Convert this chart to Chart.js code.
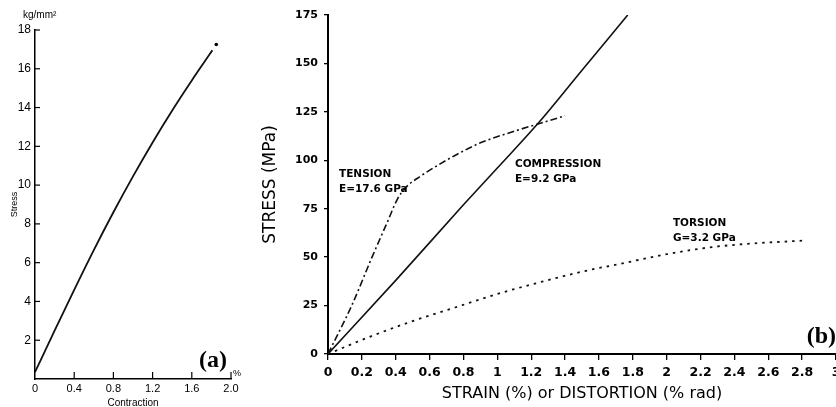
<!DOCTYPE html>
<html>
<head>
<meta charset="utf-8">
<script src="https://cdn.jsdelivr.net/npm/chart.js@4.4.0/dist/chart.umd.min.js"></script>
<style>
html, body { margin: 0; padding: 0; background: #fff; overflow: hidden; width: 836px; height: 407px; }
#wrapA { position: absolute; left: 0; top: 0; width: 245px; height: 407px; }
#wrapB { position: absolute; left: 250px; top: 0; width: 600px; height: 407px; }
</style>
</head>
<body>
<div id="wrapA"><canvas id="chartA" width="245" height="407"></canvas></div>
<div id="wrapB"><canvas id="chartB" width="600" height="407"></canvas></div>
<script>
// (a) stress vs contraction
const contraction = [0, 0.2, 0.4, 0.6, 0.8, 1.0, 1.2, 1.4, 1.6, 1.81];
const stressA = [0.35, 2.5, 4.6, 6.65, 8.6, 10.45, 12.2, 13.85, 15.4, 16.95];
const endX = [1.85];
const endY = [17.25];
const xTicksA = [0, 0.4, 0.8, 1.2, 1.6, 2.0];
const xTickLabelsA = ['0', '0.4', '0.8', '1.2', '1.6', '2.0'];
const yTicksA = [0, 2, 4, 6, 8, 10, 12, 14, 16, 18];
const yTickLabelsA = ['', '2', '4', '6', '8', '10', '12', '14', '16', '18'];

// (b) stress vs strain / distortion
const tensionX = [0, 0.14, 0.26, 0.35, 0.41, 0.46, 0.55, 0.65, 0.75, 0.9, 1.1, 1.25, 1.4];
const tensionY = [0, 25, 50, 68, 80, 86, 92, 97.5, 102.5, 109, 115, 119, 123];
const compressionX = [0, 0.4, 0.8, 1.0, 1.25, 1.5, 1.77];
const compressionY = [0, 38, 77, 96, 120, 146.5, 175];
const torsionX = [0, 0.25, 0.5, 0.75, 1.0, 1.25, 1.5, 1.75, 2.0, 2.25, 2.5, 2.8];
const torsionY = [0, 9, 17, 24, 31, 37, 42.5, 47, 51.5, 55, 57, 58.5];
const xTicksB = [0, 0.2, 0.4, 0.6, 0.8, 1, 1.2, 1.4, 1.6, 1.8, 2, 2.2, 2.4, 2.6, 2.8, 3];
const xTickLabelsB = ['0', '0.2', '0.4', '0.6', '0.8', '1', '1.2', '1.4', '1.6', '1.8', '2', '2.2', '2.4', '2.6', '2.8', '3'];
const yTicksB = [0, 25, 50, 75, 100, 125, 150, 175];
const yTickLabelsB = ['0', '25', '50', '75', '100', '125', '150', '175'];

function toPoints(xs, ys) {
    return xs.map(function(x, i) { return { x: x, y: ys[i] }; });
}

// ticks drawn inside the plot area (panel a)
const inwardTicks = {
    id: 'inwardTicks',
    afterDatasetsDraw(chart, args, opts) {
        if (!opts || !opts.x) return;
        const ctx = chart.ctx, area = chart.chartArea;
        const sx = chart.scales.x, sy = chart.scales.y;
        ctx.save();
        ctx.strokeStyle = '#000';
        ctx.lineWidth = 1.2;
        sx.ticks.forEach(function(t) {
            if (t.value === 0) return;
            const px = sx.getPixelForValue(t.value);
            ctx.beginPath();
            ctx.moveTo(px, area.bottom);
            ctx.lineTo(px, area.bottom - opts.x);
            ctx.stroke();
        });
        sy.ticks.forEach(function(t) {
            if (t.value === 0) return;
            const py = sy.getPixelForValue(t.value);
            ctx.beginPath();
            ctx.moveTo(area.left, py);
            ctx.lineTo(area.left + opts.y, py);
            ctx.stroke();
        });
        ctx.restore();
    }
};

// free text labels
const noteText = {
    id: 'noteText',
    afterDraw(chart, args, opts) {
        if (!opts || !opts.items) return;
        const ctx = chart.ctx;
        const sx = chart.scales.x, sy = chart.scales.y;
        opts.items.forEach(function(it) {
            const px = it.px !== undefined ? it.px : sx.getPixelForValue(it.x);
            const py = it.py !== undefined ? it.py : sy.getPixelForValue(it.y);
            ctx.save();
            ctx.font = it.font;
            ctx.fillStyle = '#000';
            ctx.textAlign = it.align || 'left';
            ctx.textBaseline = 'middle';
            ctx.fillText(it.text, px, py);
            ctx.restore();
        });
    }
};

Chart.defaults.color = '#000';

// Chart (a)
new Chart(document.getElementById('chartA'), {
    type: 'line',
    data: {
        datasets: [{
            data: toPoints(contraction, stressA),
            borderColor: '#111',
            borderWidth: 1.8,
            pointRadius: 0,
            cubicInterpolationMode: 'monotone'
        }, {
            data: toPoints(endX, endY),
            showLine: false,
            pointRadius: 1.8,
            pointBorderWidth: 0,
            pointBackgroundColor: '#000'
        }]
    },
    options: {
        responsive: false,
        animation: false,
        events: [],
        layout: { padding: { top: 30, right: 14, left: 0, bottom: 0 } },
        plugins: {
            legend: { display: false },
            tooltip: { enabled: false },
            inwardTicks: { x: 7, y: 5 },
            noteText: {
                items: [
                    { text: 'kg/mm²', px: 23, py: 15, font: '10px "Liberation Sans"' },
                    { text: '%', px: 233, py: 374, font: '9px "Liberation Sans"' },
                    { text: '(a)', x: 1.96, y: 0.95, align: 'right', font: 'bold 24px "Liberation Serif"' }
                ]
            }
        },
        scales: {
            x: {
                type: 'linear',
                min: 0,
                max: 2,
                afterBuildTicks: function(s) { s.ticks = xTicksA.map(function(v) { return { value: v }; }); },
                afterFit: function(s) { s.height = 28; },
                grid: { drawOnChartArea: false, drawTicks: false },
                border: { color: '#000', width: 1.5 },
                ticks: {
                    autoSkip: false,
                    maxRotation: 0,
                    padding: 3,
                    font: { family: 'Liberation Sans', size: 11 },
                    callback: function(v, i) { return xTickLabelsA[i]; }
                },
                title: {
                    display: true,
                    text: 'Contraction',
                    font: { family: 'Liberation Sans', size: 10 },
                    padding: { top: 0, bottom: -2 }
                }
            },
            y: {
                type: 'linear',
                min: 0,
                max: 18,
                afterBuildTicks: function(s) { s.ticks = yTicksA.map(function(v) { return { value: v }; }); },
                afterFit: function(s) { s.width = 35; },
                grid: { drawOnChartArea: false, drawTicks: false },
                border: { color: '#000', width: 1.5 },
                ticks: {
                    padding: 4,
                    font: { family: 'Liberation Sans', size: 12 },
                    callback: function(v, i) { return yTickLabelsA[i]; }
                },
                title: {
                    display: true,
                    text: 'Stress',
                    font: { family: 'Liberation Sans', size: 9 },
                    padding: { top: 9, bottom: 0 }
                }
            }
        }
    },
    plugins: [inwardTicks, noteText]
});

// Chart (b)
new Chart(document.getElementById('chartB'), {
    type: 'line',
    data: {
        datasets: [{
            label: 'Tension',
            data: toPoints(tensionX, tensionY),
            borderColor: '#111',
            borderWidth: 1.6,
            borderDash: [7, 3, 2, 3],
            pointRadius: 0,
            cubicInterpolationMode: 'monotone'
        }, {
            label: 'Compression',
            data: toPoints(compressionX, compressionY),
            borderColor: '#111',
            borderWidth: 1.6,
            pointRadius: 0,
            cubicInterpolationMode: 'monotone'
        }, {
            label: 'Torsion',
            data: toPoints(torsionX, torsionY),
            borderColor: '#111',
            borderWidth: 1.8,
            borderDash: [2.5, 5],
            pointRadius: 0,
            cubicInterpolationMode: 'monotone'
        }]
    },
    options: {
        responsive: false,
        animation: false,
        events: [],
        layout: { padding: { top: 15, right: 14, left: 0, bottom: 0 } },
        plugins: {
            legend: { display: false },
            tooltip: { enabled: false },
            noteText: {
                items: [
                    { text: 'TENSION', x: 0.065, y: 93, font: 'bold 10.5px "DejaVu Sans"' },
                    { text: 'E=17.6 GPa', x: 0.065, y: 85, font: 'bold 10.5px "DejaVu Sans"' },
                    { text: 'COMPRESSION', x: 1.104, y: 98, font: 'bold 10.5px "DejaVu Sans"' },
                    { text: 'E=9.2 GPa', x: 1.104, y: 90.3, font: 'bold 10.5px "DejaVu Sans"' },
                    { text: 'TORSION', x: 2.037, y: 67.6, font: 'bold 10.5px "DejaVu Sans"' },
                    { text: 'G=3.2 GPa', x: 2.037, y: 60, font: 'bold 10.5px "DejaVu Sans"' },
                    { text: '(b)', x: 3.0, y: 8.8, align: 'right', font: 'bold 24px "Liberation Serif"' }
                ]
            }
        },
        scales: {
            x: {
                type: 'linear',
                min: 0,
                max: 3,
                afterBuildTicks: function(s) { s.ticks = xTicksB.map(function(v) { return { value: v }; }); },
                afterFit: function(s) { s.height = 53; },
                grid: { drawOnChartArea: false, drawTicks: true, tickLength: 6, color: '#000', lineWidth: 1.3 },
                border: { color: '#000', width: 2 },
                ticks: {
                    autoSkip: false,
                    maxRotation: 0,
                    padding: 5,
                    font: { family: 'DejaVu Sans', size: 12.5, weight: 'bold' },
                    callback: function(v, i) { return xTickLabelsB[i]; }
                },
                title: {
                    display: true,
                    text: 'STRAIN (%) or DISTORTION (% rad)',
                    font: { family: 'DejaVu Sans', size: 16 },
                    padding: { top: 0, bottom: 4 }
                }
            },
            y: {
                type: 'linear',
                min: 0,
                max: 175,
                afterBuildTicks: function(s) { s.ticks = yTicksB.map(function(v) { return { value: v }; }); },
                afterFit: function(s) { s.width = 78; },
                grid: { drawOnChartArea: false, drawTicks: true, tickLength: 4, color: '#000', lineWidth: 1.3 },
                border: { color: '#000', width: 2 },
                ticks: {
                    padding: 6,
                    font: { family: 'DejaVu Sans', size: 11, weight: 'bold' },
                    callback: function(v, i) { return yTickLabelsB[i]; }
                },
                title: {
                    display: true,
                    text: 'STRESS (MPa)',
                    font: { family: 'DejaVu Sans', size: 17 },
                    padding: { top: 10, bottom: 0 }
                }
            }
        }
    },
    plugins: [noteText]
});
</script>
</body>
</html>
